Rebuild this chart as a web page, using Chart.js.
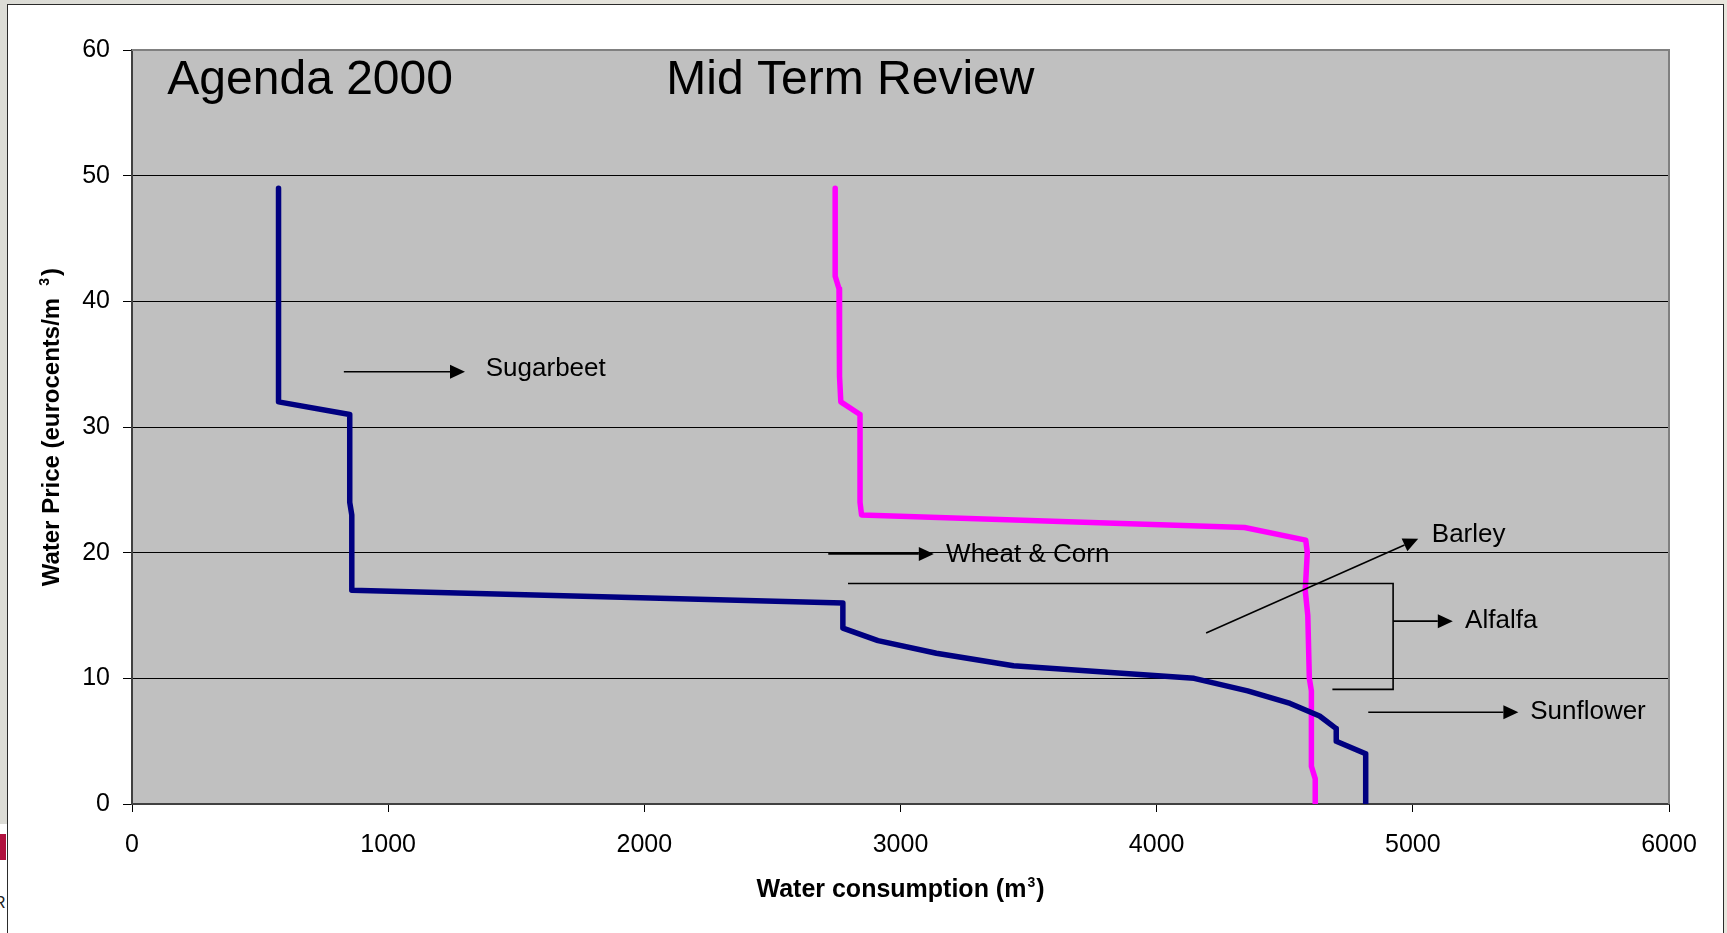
<!DOCTYPE html>
<html>
<head>
<meta charset="utf-8">
<title>Water price vs water consumption</title>
<script src="https://cdn.jsdelivr.net/npm/chart.js@4.4.1/dist/chart.umd.min.js"></script>
<style>
  html, body { margin: 0; padding: 0; }
  body {
    width: 1727px; height: 933px; overflow: hidden; position: relative;
    background: linear-gradient(90deg, #dcdcd6 0px, #e6e4dc 40%, #e8e5dc 100%);
    font-family: "Liberation Sans", Arial, sans-serif;
  }
  #frame {
    position: absolute; left: 7px; top: 4px; width: 1717px; height: 960px;
    background: #fff; border: 1.5px solid #2b2b2b; box-sizing: border-box;
  }
  #logo { position: absolute; left: 0; top: 824px; width: 7px; height: 109px; background: #fff; overflow: hidden; }
  #logo .red { position: absolute; left: 0; top: 10px; width: 6px; height: 26px; background: #b0123f; }
  #logo .r { position: absolute; left: -6px; top: 70px; font-size: 16px; color: #222; }
  canvas { position: absolute; left: 0; top: 0; }
</style>
</head>
<body>
<div id="frame"></div>
<div id="logo"><div class="red"></div><div class="r">R</div></div>
<canvas id="chart" width="1727" height="933" style="width:1727px;height:933px"></canvas>
<script>
// water consumption (m3) / water price (eurocents/m3)
const agendaX = [572, 572, 850, 850, 858, 858, 2775, 2775, 2912, 3140, 3441, 4146, 4355, 4521, 4636, 4701, 4701, 4816, 4816];
const agendaY = [49, 32, 31, 24, 23, 17, 16, 14, 13, 12, 11, 10, 9, 8, 7, 6, 5, 4, 0];

const mtrX = [2745, 2745, 2760, 2762, 2767, 2842, 2842, 2848, 4343, 4582, 4588, 4580, 4590, 4596, 4604, 4604, 4619, 4619];
const mtrY = [49, 42, 41, 34, 32, 31, 24, 23, 22, 21, 20, 17, 15, 10, 9, 3, 2, 0];

const xTicks = [0, 1000, 2000, 3000, 4000, 5000, 6000];
const yTicks = [0, 10, 20, 30, 40, 50, 60];

// headings inside the plot (data coords)
const headings = ['Agenda 2000', 'Mid Term Review'];
const headingX = [138, 2086];
const headingY = [56.5, 56.5];

// crop labels and their arrows (data coords)
const noteLabels = ['Sugarbeet', 'Wheat & Corn', 'Barley', 'Alfalfa', 'Sunflower'];
const noteX = [1381, 3178, 5074, 5204, 5458];
const noteY = [34.6, 19.8, 21.4, 14.6, 7.3];
const arrowFromX = [827, 2718, 4193, 4923, 4826];
const arrowFromY = [34.4, 19.9, 13.6, 14.55, 7.3];
const arrowToX = [1300, 3130, 5021, 5156, 5412];
const arrowToY = [34.4, 19.9, 21.1, 14.55, 7.3];
// alfalfa bracket
const bracketX = [2795, 4923, 4923, 4686];
const bracketY = [17.55, 17.55, 9.12, 9.12];

const FONT = '"Liberation Sans", Arial, sans-serif';

function pts(xs, ys) {
  return xs.map((x, i) => ({x: x, y: ys[i]}));
}

const plotBg = {
  id: 'plotBg',
  beforeDraw(chart) {
    const a = chart.chartArea, c = chart.ctx;
    c.save();
    c.fillStyle = '#c0c0c0';
    c.fillRect(a.left, a.top, a.right - a.left, a.bottom - a.top);
    c.restore();
  },
  beforeDatasetsDraw(chart) {
    const a = chart.chartArea, c = chart.ctx;
    c.save();
    c.strokeStyle = '#808080';
    c.lineWidth = 2;
    c.beginPath();
    c.moveTo(a.left, a.top);
    c.lineTo(a.right, a.top);
    c.lineTo(a.right, a.bottom);
    c.stroke();
    c.restore();
  }
};

function arrow(c, x0, y0, x1, y1) {
  const ang = Math.atan2(y1 - y0, x1 - x0);
  const len = 15, hw = 7;
  const bx = x1 - len * Math.cos(ang), by = y1 - len * Math.sin(ang);
  c.beginPath();
  c.moveTo(x0, y0);
  c.lineTo(bx, by);
  c.stroke();
  c.beginPath();
  c.moveTo(x1, y1);
  c.lineTo(bx + hw * Math.sin(ang), by - hw * Math.cos(ang));
  c.lineTo(bx - hw * Math.sin(ang), by + hw * Math.cos(ang));
  c.closePath();
  c.fill();
}

const notes = {
  id: 'notes',
  afterDatasetsDraw(chart) {
    const c = chart.ctx, sx = chart.scales.x, sy = chart.scales.y;
    c.save();
    c.fillStyle = '#000';
    c.strokeStyle = '#000';
    c.lineWidth = 1.6;

    // headings
    c.font = '48px ' + FONT;
    c.textBaseline = 'alphabetic';
    headings.forEach((t, i) => c.fillText(t, sx.getPixelForValue(headingX[i]), sy.getPixelForValue(headingY[i])));

    // bracket
    c.beginPath();
    bracketX.forEach((x, i) => {
      const px = sx.getPixelForValue(x), py = sy.getPixelForValue(bracketY[i]);
      if (i === 0) c.moveTo(px, py); else c.lineTo(px, py);
    });
    c.stroke();

    // arrows
    arrowFromX.forEach((x, i) => arrow(c,
      sx.getPixelForValue(x), sy.getPixelForValue(arrowFromY[i]),
      sx.getPixelForValue(arrowToX[i]), sy.getPixelForValue(arrowToY[i])));

    // labels
    c.font = '26px ' + FONT;
    c.textBaseline = 'middle';
    noteLabels.forEach((t, i) => c.fillText(t, sx.getPixelForValue(noteX[i]), sy.getPixelForValue(noteY[i])));
    c.restore();
  },
  afterDraw(chart) {
    const c = chart.ctx, a = chart.chartArea;
    c.save();
    c.fillStyle = '#000';
    c.textBaseline = 'middle';

    // x axis title
    const big = 'bold 24px ' + FONT, small = 'bold 14px ' + FONT;
    c.font = 'bold 25px ' + FONT;
    const xa = 'Water consumption (m', xb = ')';
    const wa = c.measureText(xa).width, wb = c.measureText(xb).width;
    c.font = small;
    const w3 = c.measureText('3').width + 2;
    let x = (a.left + a.right) / 2 - (wa + w3 + wb) / 2;
    const y = a.bottom + 86;
    c.font = 'bold 25px ' + FONT;
    c.fillText(xa, x, y);
    c.font = small;
    c.fillText('3', x + wa + 1, y - 7);
    c.font = 'bold 25px ' + FONT;
    c.fillText(xb, x + wa + w3, y);

    // y axis title
    c.translate(a.left - 80, (a.top + a.bottom) / 2);
    c.rotate(-Math.PI / 2);
    const ya = 'Water Price (eurocents/m', gap = 12;
    c.font = big;
    const wya = c.measureText(ya).width;
    x = -(wya + gap + w3 + wb) / 2;
    c.fillText(ya, x, 0);
    c.font = small;
    c.fillText('3', x + wya + gap, -7);
    c.font = big;
    c.fillText(')', x + wya + gap + w3, 0);
    c.restore();
  }
};

const ctx = document.getElementById('chart').getContext('2d');
new Chart(ctx, {
  type: 'scatter',
  data: {
    datasets: [
      { label: 'Agenda 2000', data: pts(agendaX, agendaY), showLine: true,
        borderColor: '#000080', backgroundColor: '#000080', borderWidth: 5.5,
        pointRadius: 0, tension: 0, borderJoinStyle: 'round', borderCapStyle: 'round' },
      { label: 'Mid Term Review', data: pts(mtrX, mtrY), showLine: true,
        borderColor: '#ff00ff', backgroundColor: '#ff00ff', borderWidth: 5.5,
        pointRadius: 0, tension: 0, borderJoinStyle: 'round', borderCapStyle: 'round' }
    ]
  },
  options: {
    responsive: false,
    animation: false,
    devicePixelRatio: 1,
    layout: { padding: { left: 8, top: 50, right: 58, bottom: 0 } },
    plugins: { legend: { display: false }, tooltip: { enabled: false } },
    scales: {
      x: {
        type: 'linear', min: xTicks[0], max: xTicks[xTicks.length - 1],
        afterFit: s => { s.height = 129; },
        afterBuildTicks: s => { s.ticks = xTicks.map(v => ({value: v})); },
        ticks: { color: '#000', font: { family: FONT, size: 25 }, padding: 18, maxRotation: 0, autoSkip: false, callback: v => String(v) },
        grid: { drawOnChartArea: false, tickLength: 8, tickColor: '#000', tickWidth: 1 },
        border: { display: true, color: '#404040', width: 2 }
      },
      y: {
        type: 'linear', min: yTicks[0], max: yTicks[yTicks.length - 1],
        afterFit: s => { s.width = 124; },
        afterBuildTicks: s => { s.ticks = yTicks.map(v => ({value: v})); },
        ticks: { color: '#000', font: { family: FONT, size: 25 }, padding: 13, autoSkip: false, callback: v => String(v) },
        grid: {
          color: c => (c.tick && c.tick.value > 0 && c.tick.value < 60) ? '#000' : 'rgba(0,0,0,0)',
          lineWidth: 1, tickLength: 9, tickColor: '#000', tickWidth: 1
        },
        border: { display: true, color: '#404040', width: 2 }
      }
    }
  },
  plugins: [plotBg, notes]
});
</script>
</body>
</html>
